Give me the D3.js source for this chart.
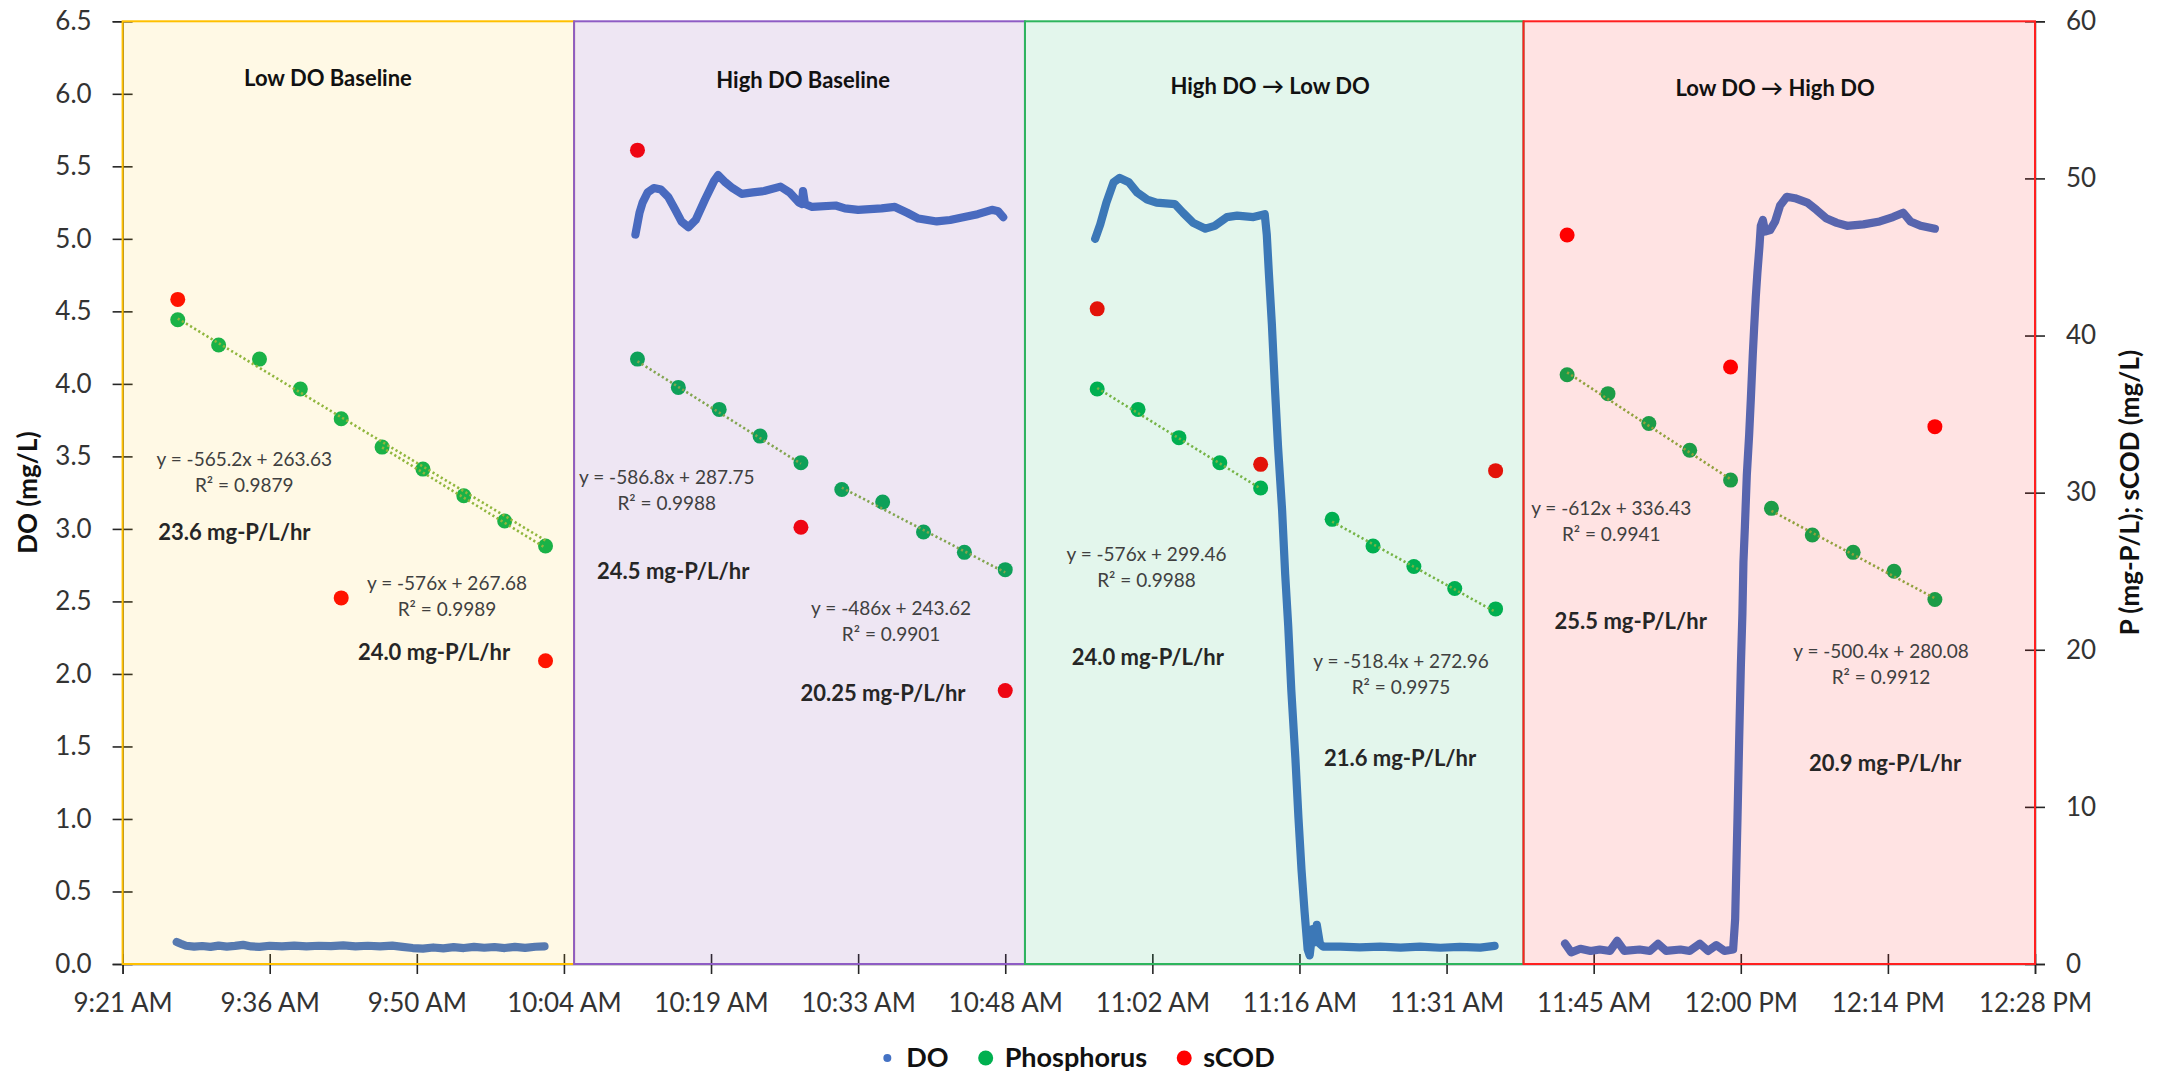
<!DOCTYPE html>
<html>
<head>
<meta charset="utf-8">
<script src="https://cdn.jsdelivr.net/npm/d3@7"></script>
<style>
  html, body { margin: 0; padding: 0; background: #ffffff; }
  svg { display: block; font-family: Lato, "Open Sans", "DejaVu Sans", sans-serif; }
</style>
</head>
<body>
<svg id="chart" width="2160" height="1072"></svg>
<script>
// ---------------- data ----------------
// Time axis is in fractions of a day (Excel serial time).
const xTickDays   = [0.39, 0.40, 0.41, 0.42, 0.43, 0.44, 0.45, 0.46, 0.47, 0.48, 0.49, 0.50, 0.51, 0.52];
const xTickLabels = ["9:21 AM", "9:36 AM", "9:50 AM", "10:04 AM", "10:19 AM", "10:33 AM", "10:48 AM",
                     "11:02 AM", "11:16 AM", "11:31 AM", "11:45 AM", "12:00 PM", "12:14 PM", "12:28 PM"];
const doTicks = [0, 0.5, 1, 1.5, 2, 2.5, 3, 3.5, 4, 4.5, 5, 5.5, 6, 6.5];
const pTicks  = [0, 10, 20, 30, 40, 50, 60];

// Test phases
const phaseNames = ["Low DO Baseline", "High DO Baseline", "High DO \u2192 Low DO", "Low DO \u2192 High DO"];
const phaseStart = [0.39, 0.42069, 0.45134, 0.48523];
const phaseEnd   = [0.42069, 0.45134, 0.48523, 0.52];

// Grab samples (clock time) and measured values
const sampleTimes = [
  ["9:27", "9:31", "9:35", "9:39", "9:43", "9:47", "9:51", "9:55", "9:59", "10:03"],
  ["10:12", "10:16", "10:20", "10:24", "10:28", "10:32", "10:36", "10:40", "10:44", "10:48"],
  ["10:57", "11:01", "11:05", "11:09", "11:13", "11:20", "11:24", "11:28", "11:32", "11:36"],
  ["11:43", "11:47", "11:51", "11:55", "11:59", "12:03", "12:07", "12:11", "12:15", "12:19"]
];
const phosphorus = [
  [41.0, 39.4, 38.5, 36.6, 34.7, 32.9, 31.5, 29.8, 28.2, 26.6],
  [38.5, 36.7, 35.3, 33.6, 31.9, 30.2, 29.4, 27.5, 26.2, 25.1],
  [36.6, 35.3, 33.5, 31.9, 30.3, 28.3, 26.6, 25.3, 23.9, 22.6],
  [37.5, 36.3, 34.4, 32.7, 30.8, 29.0, 27.3, 26.2, 25.0, 23.2]
];
const scodTimes = [
  ["9:27", "9:43", "10:03"],
  ["10:12", "10:28", "10:48"],
  ["10:57", "11:13", "11:36"],
  ["11:43", "11:59", "12:19"]
];
const scod = [
  [42.3, 23.3, 19.3],
  [51.8, 27.8, 17.4],
  [41.7, 31.8, 31.4],
  [46.4, 38.0, 34.2]
];

// Linear P-release fits (x in days), sample index ranges they cover
const fitSlope     = [[-565.2, -576], [-586.8, -486], [-576, -518.4], [-612, -500.4]];
const fitIntercept = [[263.63, 267.68], [287.75, 243.62], [299.46, 272.96], [336.43, 280.08]];
const fitR2        = [["0.9879", "0.9989"], ["0.9988", "0.9901"], ["0.9988", "0.9975"], ["0.9941", "0.9912"]];
const fitSpan      = [[[0, 9], [5, 9]], [[0, 4], [5, 9]], [[0, 4], [5, 9]], [[0, 4], [5, 9]]];
const fitRate      = [["23.6", "24.0"], ["24.5", "20.25"], ["24.0", "21.6"], ["25.5", "20.9"]];

// Dissolved-oxygen probe log: [minutes after 9:00 AM, DO mg/L]
const doLowBaseline = [
  [26.9,0.152],[27.3,0.140],[27.8,0.126],[28.6,0.120],[29.4,0.124],[30.2,0.118],[31.0,0.127],[31.8,0.120],
  [32.6,0.125],[33.4,0.132],[34.2,0.121],[35.0,0.118],[36.0,0.126],[37.2,0.122],[38.4,0.127],[39.6,0.121],
  [40.8,0.126],[42.0,0.123],[43.2,0.128],[44.4,0.122],[45.6,0.126],[46.8,0.121],[48.0,0.127],[49.0,0.118],
  [50.0,0.110],[51.0,0.106],[52.0,0.114],[53.0,0.108],[54.0,0.116],[55.0,0.110],[56.0,0.118],[57.0,0.112],
  [58.0,0.117],[59.0,0.110],[60.0,0.118],[61.0,0.111],[62.0,0.119],[62.9,0.122]
];
const doHighBaseline = [
  [71.8,5.03],[72.2,5.18],[72.5,5.25],[73.0,5.32],[73.6,5.35],[74.3,5.34],[75.0,5.29],[75.7,5.20],
  [76.3,5.12],[77.0,5.08],[77.7,5.13],[78.6,5.27],[79.5,5.40],[79.9,5.44],[80.6,5.39],[81.3,5.35],
  [82.2,5.31],[83.3,5.32],[84.4,5.33],[86.0,5.36],[86.9,5.32],[87.8,5.25],[88.1,5.24],[88.2,5.33],
  [88.4,5.24],[89.1,5.22],[91.4,5.23],[92.3,5.21],[93.6,5.20],[95.9,5.21],[97.2,5.22],[98.4,5.18],
  [99.5,5.14],[101.3,5.12],[102.6,5.13],[104.0,5.15],[105.3,5.17],[106.7,5.20],[107.3,5.19],[107.8,5.15]
];
const doHighToLow = [
  [116.8,5.00],[117.3,5.10],[117.9,5.25],[118.6,5.39],[119.2,5.42],[120.1,5.39],[120.9,5.32],[121.9,5.27],
  [122.8,5.25],[124.6,5.24],[125.4,5.18],[126.4,5.11],[127.6,5.07],[128.5,5.09],[129.7,5.15],[130.7,5.16],
  [132.3,5.15],[133.4,5.17],[133.6,5.03],[133.8,4.77],[134.1,4.41],[134.4,3.97],[134.7,3.57],[135.1,3.13],
  [135.4,2.69],[135.7,2.33],[136.0,1.89],[136.4,1.42],[136.7,1.01],[137.0,0.65],[137.3,0.36],[137.6,0.10],
  [137.8,0.06],[138.1,0.24],[138.3,0.15],[138.5,0.27],[138.8,0.14],[139.1,0.12],[140.8,0.12],[142.7,0.115],
  [144.7,0.12],[146.7,0.113],[148.6,0.12],[150.6,0.112],[152.5,0.118],[154.5,0.113],[155.9,0.125]
];
const doLowToHigh = [
  [162.8,0.14],[163.4,0.08],[164.3,0.105],[165.3,0.09],[166.2,0.10],[167.2,0.09],[167.9,0.16],[168.6,0.09],
  [170.1,0.10],[171.1,0.09],[171.9,0.14],[172.7,0.09],[174.1,0.10],[175.0,0.09],[176.0,0.14],[176.8,0.09],
  [177.6,0.13],[178.4,0.09],[179.25,0.10],[179.45,0.31],[179.55,0.62],[179.68,1.01],[179.84,1.54],[180.01,2.06],
  [180.16,2.42],[180.26,2.77],[180.4,3.01],[180.59,3.37],[180.82,3.65],[180.98,3.89],[181.18,4.21],[181.31,4.39],
  [181.47,4.60],[181.63,4.77],[181.83,4.95],[181.96,5.09],[182.16,5.13],[182.38,5.05],[182.87,5.06],[183.36,5.12],
  [183.85,5.23],[184.5,5.29],[185.3,5.28],[186.5,5.25],[187.4,5.20],[188.4,5.14],[189.4,5.11],[190.4,5.09],
  [192.0,5.10],[193.6,5.12],[194.9,5.15],[195.9,5.18],[196.6,5.12],[197.6,5.09],[199.0,5.07]
];
const doRuns = [doLowBaseline, doHighBaseline, doHighToLow, doLowToHigh];

// ---------------- layout & style ----------------
const W = 2160, H = 1072;
const M = { left: 122.6, right: 2035, top: 21.3, bottom: 964 };
const colors = { DO: "#4472C4", P: "#00B050", sCOD: "#FF0000", fit: "#84B545", text: "#333333" };
const phaseFill    = ["#FFC000", "#7030A0", "#00B050", "#FF0000"];
const phaseOpacity = [0.10, 0.12, 0.11, 0.11];
const phaseStroke  = ["#FFC000", "#8E5CC4", "#2DB55D", "#FF1F1F"];

// Annotation anchors in data units [day, DO mg/L]
const titleAnchor = [[0.40396, 6.106], [0.43626, 6.096], [0.46800, 6.049], [0.50233, 6.037]];
const eqAnchor    = [[[0.39827, 3.482], [0.41205, 2.626]], [[0.42699, 3.358], [0.44224, 2.450]],
                     [[0.45960, 2.822], [0.47690, 2.085]], [[0.49119, 3.140], [0.50953, 2.155]]];
const rateAnchor  = [[[0.39760, 2.979], [0.41117, 2.148]], [[0.42743, 2.706], [0.44169, 1.866]],
                     [[0.45969, 2.113], [0.47684, 1.420]], [[0.49252, 2.362], [0.50981, 1.383]]];

// ---------------- scales ----------------
const x   = d3.scaleLinear().domain([0.39, 0.52]).range([M.left, M.right]);
const yDO = d3.scaleLinear().domain([0, 6.5]).range([M.bottom, M.top]);
const yP  = d3.scaleLinear().domain([0, 60]).range([M.bottom, M.top]);

const clock = s => { const [h, m] = s.split(":").map(Number); return (h * 60 + m) / 1440; };
const fromMinutes = m => (540 + m) / 1440;

const svg = d3.select("#chart");
svg.append("rect").attr("width", W).attr("height", H).attr("fill", "#ffffff");

// ---------------- axes ----------------
function styleAxis(g, inner) {
  g.select(".domain").attr("stroke", "#404040").attr("stroke-width", 1.5);
  g.selectAll(".tick line").attr("stroke", "#262626").attr("stroke-width", 1.6);
  g.selectAll(".tick text").attr("fill", colors.text).attr("font-size", 26)
    .attr("font-family", "Lato, 'Open Sans', sans-serif");
  inner(g);
}

svg.append("g").attr("transform", `translate(${M.left},0)`)
  .call(d3.axisLeft(yDO).tickValues(doTicks).tickFormat(d3.format(".1f")).tickSize(10).tickPadding(21))
  .call(g => styleAxis(g, g => g.selectAll(".tick line").attr("x1", 10)));

svg.append("g").attr("transform", `translate(${M.right},0)`)
  .call(d3.axisRight(yP).tickValues(pTicks).tickSize(10).tickPadding(21))
  .call(g => styleAxis(g, g => g.selectAll(".tick line").attr("x1", -10)));

svg.append("g").attr("transform", `translate(0,${M.bottom})`)
  .call(d3.axisBottom(x).tickValues(xTickDays).tickFormat((d, i) => xTickLabels[i]).tickSize(10).tickPadding(20))
  .call(g => styleAxis(g, g => g.selectAll(".tick line").attr("y1", -10)));

// ---------------- data marks ----------------
const doLine = d3.line().x(d => x(fromMinutes(d[0]))).y(d => yDO(d[1]));
svg.append("g").selectAll("path").data(doRuns).join("path")
  .attr("d", doLine)
  .attr("fill", "none").attr("stroke", colors.DO).attr("stroke-width", 8.2)
  .attr("stroke-linejoin", "round").attr("stroke-linecap", "round");

const pPoints = sampleTimes.flatMap((ts, p) => ts.map((t, i) => ({ t: clock(t), v: phosphorus[p][i] })));
svg.append("g").selectAll("circle").data(pPoints).join("circle")
  .attr("cx", d => x(d.t)).attr("cy", d => yP(d.v)).attr("r", 7.5).attr("fill", colors.P);

const cPoints = scodTimes.flatMap((ts, p) => ts.map((t, i) => ({ t: clock(t), v: scod[p][i] })));
svg.append("g").selectAll("circle").data(cPoints).join("circle")
  .attr("cx", d => x(d.t)).attr("cy", d => yP(d.v)).attr("r", 7.5).attr("fill", colors.sCOD);

// fitted trendlines from the stated equations
const fits = [];
fitSlope.forEach((pair, p) => pair.forEach((s, k) => {
  const [i0, i1] = fitSpan[p][k];
  const t0 = clock(sampleTimes[p][i0]), t1 = clock(sampleTimes[p][i1]);
  fits.push({ t0, t1, v0: s * t0 + fitIntercept[p][k], v1: s * t1 + fitIntercept[p][k] });
}));
svg.append("g").selectAll("line").data(fits).join("line")
  .attr("x1", d => x(d.t0)).attr("y1", d => yP(d.v0))
  .attr("x2", d => x(d.t1)).attr("y2", d => yP(d.v1))
  .attr("stroke", colors.fit).attr("stroke-width", 2.6)
  .attr("stroke-dasharray", "2.2 2.6");

// ---------------- phase bands (translucent, over the data) ----------------
svg.append("g").selectAll("rect").data(phaseNames).join("rect")
  .attr("x", (d, i) => x(phaseStart[i]))
  .attr("y", yDO(6.5))
  .attr("width", (d, i) => x(phaseEnd[i]) - x(phaseStart[i]))
  .attr("height", yDO(0) - yDO(6.5))
  .attr("fill", (d, i) => phaseFill[i])
  .attr("fill-opacity", (d, i) => phaseOpacity[i])
  .attr("stroke", (d, i) => phaseStroke[i])
  .attr("stroke-width", 2);

// ---------------- annotations ----------------
const ann = svg.append("g");
phaseNames.forEach((name, p) => {
  ann.append("text")
    .attr("x", x(titleAnchor[p][0])).attr("y", yDO(titleAnchor[p][1])).attr("dy", "0.35em")
    .attr("text-anchor", "middle").attr("font-size", 22).attr("font-weight", 700).attr("fill", "#111")
    .text(name);
  [0, 1].forEach(k => {
    const slope = fitSlope[p][k], b = fitIntercept[p][k];
    const ex = x(eqAnchor[p][k][0]), ey = yDO(eqAnchor[p][k][1]);
    ann.append("text").attr("x", ex).attr("y", ey).attr("dy", "0.35em")
      .attr("text-anchor", "middle").attr("font-size", 19).attr("fill", "#404040")
      .text(`y = ${slope}x + ${b}`);
    ann.append("text").attr("x", ex).attr("y", ey + 26).attr("dy", "0.35em")
      .attr("text-anchor", "middle").attr("font-size", 19).attr("fill", "#404040")
      .text(`R\u00B2 = ${fitR2[p][k]}`);
    ann.append("text")
      .attr("x", x(rateAnchor[p][k][0])).attr("y", yDO(rateAnchor[p][k][1])).attr("dy", "0.35em")
      .attr("text-anchor", "middle").attr("font-size", 22).attr("font-weight", 700).attr("fill", "#262626")
      .text(`${fitRate[p][k]} mg-P/L/hr`);
  });
});

// axis titles
svg.append("text")
  .attr("transform", `translate(28,${(M.top + M.bottom) / 2}) rotate(-90)`)
  .attr("text-anchor", "middle").attr("dy", "0.35em")
  .attr("font-size", 26).attr("font-weight", 700).attr("fill", "#111")
  .text("DO (mg/L)");
svg.append("text")
  .attr("transform", `translate(2130,${(M.top + M.bottom) / 2}) rotate(-90)`)
  .attr("text-anchor", "middle").attr("dy", "0.35em")
  .attr("font-size", 26).attr("font-weight", 700).attr("fill", "#111")
  .text("P (mg-P/L); sCOD (mg/L)");

// ---------------- legend ----------------
const legendItems = [
  { label: "DO", color: colors.DO, r: 4 },
  { label: "Phosphorus", color: colors.P, r: 7.5 },
  { label: "sCOD", color: colors.sCOD, r: 7.5 }
];
const lg = svg.append("g");
const ly = 1058;
let cursor = 0;
const parts = legendItems.map(it => {
  const g = lg.append("g");
  g.append("circle").attr("cx", 0).attr("cy", ly).attr("r", it.r).attr("fill", it.color);
  const t = g.append("text").attr("x", 19).attr("y", ly).attr("dy", "0.35em")
    .attr("font-size", 27).attr("font-weight", 700).attr("fill", "#111").text(it.label);
  return { g, w: t.node().getComputedTextLength() };
});
parts.forEach((pt, i) => {
  pt.g.attr("transform", `translate(${cursor},0)`);
  cursor += 19 + pt.w + (i < parts.length - 1 ? 37 : 0);
});
const legendWidth = cursor + 4;
lg.attr("transform", `translate(${1079 - legendWidth / 2 + 4},0)`);
</script>
</body>
</html>
